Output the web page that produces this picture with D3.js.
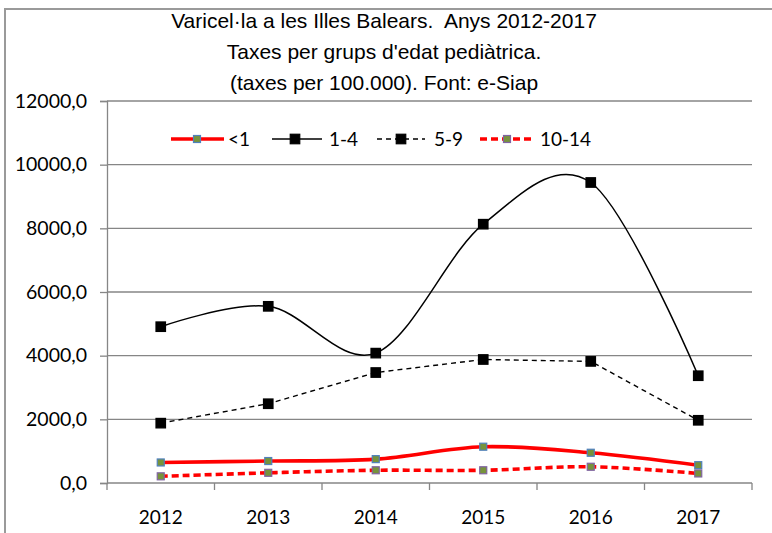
<!DOCTYPE html>
<html>
<head>
<meta charset="utf-8">
<script src="https://cdn.jsdelivr.net/npm/d3@7"></script>
<style>
  html, body { margin: 0; padding: 0; background: #fff; }
  svg { display: block; }
</style>
</head>
<body>
<script>
// ---- data ----
const years = ["2012", "2013", "2014", "2015", "2016", "2017"];
const seriesNames = ["<1", "1-4", "5-9", "10-14"];
const lt1 = [645, 690, 750, 1140, 950, 560];
const age1to4 = [4910, 5550, 4080, 8130, 9440, 3370];
const age5to9 = [1880, 2490, 3470, 3880, 3820, 1970];
const age10to14 = [210, 320, 400, 400, 510, 300];
const yTicks = [0, 2000, 4000, 6000, 8000, 10000, 12000];
const titleLines = [
  "Varicel\u00b7la a les Illes Balears.  Anys 2012-2017",
  "Taxes per grups d'edat pedi\u00e0trica.",
  "(taxes per 100.000). Font: e-Siap"
];

(function () {
const W = 772, H = 533;
const pLeft = 107, pRight = 752, pTop = 101, pBottom = 483;
const gray = "#868686";
const labelFont = "Lato, 'Open Sans', sans-serif";
const titleFont = "'Liberation Sans Narrow', 'Arial Narrow', 'Liberation Sans', sans-serif";

const svg = d3.select("body").append("svg").attr("width", W).attr("height", H);

// chart border (only top and left visible)
svg.append("rect").attr("x", 5).attr("y", 9).attr("width", 900).attr("height", 900)
  .attr("fill", "none").attr("stroke", "#9a9a9a").attr("stroke-width", 2);

const x = d3.scaleBand().domain(years).range([pLeft, pRight]).paddingInner(0).paddingOuter(0);
const y = d3.scaleLinear().domain([0, 12000]).range([pBottom, pTop]);

// gridlines
svg.append("g").selectAll("line").data(yTicks.filter(d => d > 0)).join("line")
  .attr("x1", pLeft).attr("x2", pRight)
  .attr("y1", d => y(d)).attr("y2", d => y(d))
  .attr("stroke", gray).attr("stroke-width", 1.3);

// y axis
const fmt = d => d3.format(".1f")(d).replace(".", ",");
const yAxis = svg.append("g").attr("transform", `translate(${pLeft},0)`)
  .call(d3.axisLeft(y).tickValues(yTicks).tickFormat(fmt).tickSize(7).tickPadding(13));
yAxis.select(".domain").attr("stroke", gray).attr("stroke-width", 1.3);
yAxis.selectAll(".tick line").attr("stroke", gray).attr("stroke-width", 1.3);
yAxis.selectAll(".tick text").attr("font-family", labelFont).attr("font-size", 19.5)
  .attr("fill", "#000");

// x axis
const xAxisG = svg.append("g").attr("transform", `translate(0,${pBottom})`);
xAxisG.append("line").attr("x1", pLeft).attr("x2", pRight).attr("y1", 0).attr("y2", 0)
  .attr("stroke", gray).attr("stroke-width", 1.3);
const bounds = years.map(d => x(d)).concat([pRight]);
xAxisG.selectAll("line.t").data(bounds).join("line").attr("class", "t")
  .attr("x1", d => d).attr("x2", d => d).attr("y1", 0).attr("y2", 7)
  .attr("stroke", gray).attr("stroke-width", 1.3);
xAxisG.selectAll("text").data(years).join("text")
  .attr("x", d => x(d) + x.bandwidth() / 2).attr("y", 41)
  .attr("text-anchor", "middle")
  .attr("font-family", labelFont).attr("font-size", 19).attr("fill", "#000")
  .text(d => d);

// title
svg.append("g").selectAll("text").data(titleLines).join("text")
  .attr("x", 384).attr("y", (d, i) => 28 + i * 31)
  .attr("text-anchor", "middle")
  .style("white-space", "pre")
  .attr("xml:space", "preserve")
  .attr("font-family", titleFont).attr("font-size", 21).attr("fill", "#000")
  .text(d => d);

// series definitions
const series = [
  { name: seriesNames[0], values: lt1, color: "#ff0000", width: 3.6, dash: null, curve: d3.curveCardinal.tension(0),
    mSize: 7, mFill: "#77933c", mStroke: "#4f81bd" },
  { name: seriesNames[1], values: age1to4, color: "#000", width: 1.5, dash: null, curve: d3.curveCardinal.tension(0),
    mSize: 9.5, mFill: "#000", mStroke: "#000" },
  { name: seriesNames[2], values: age5to9, color: "#000", width: 1.4, dash: "5,4", curve: d3.curveLinear,
    mSize: 9.5, mFill: "#000", mStroke: "#000" },
  { name: seriesNames[3], values: age10to14, color: "#ff0000", width: 3.6, dash: "7,4", curve: d3.curveCardinal.tension(0),
    mSize: 7, mFill: "#77933c", mStroke: "#8064a2" }
];

const cx = d => x(d) + x.bandwidth() / 2;

series.forEach(s => {
  const pts = years.map((yr, i) => [cx(yr), y(s.values[i])]);
  const line = d3.line().curve(s.curve);
  svg.append("path").attr("d", line(pts)).attr("fill", "none")
    .attr("stroke", s.color).attr("stroke-width", s.width)
    .attr("stroke-dasharray", s.dash);
  svg.append("g").selectAll("rect").data(pts).join("rect")
    .attr("x", d => d[0] - s.mSize / 2).attr("y", d => d[1] - s.mSize / 2)
    .attr("width", s.mSize).attr("height", s.mSize)
    .attr("fill", s.mFill).attr("stroke", s.mStroke).attr("stroke-width", 1.2);
});

// legend
const legendItems = [
  { x1: 171, x2: 224, m: 197, tx: 228 },
  { x1: 272, x2: 322, m: 295, tx: 329 },
  { x1: 377, x2: 425, m: 401, tx: 434 },
  { x1: 480, x2: 533, m: 507, tx: 540 }
];
const ly = 139;
const lg = svg.append("g");
series.forEach((s, i) => {
  const li = legendItems[i];
  lg.append("line").attr("x1", li.x1).attr("x2", li.x2).attr("y1", ly).attr("y2", ly)
    .attr("stroke", s.color).attr("stroke-width", s.width).attr("stroke-dasharray", s.dash);
  lg.append("rect").attr("x", li.m - s.mSize / 2).attr("y", ly - s.mSize / 2)
    .attr("width", s.mSize).attr("height", s.mSize)
    .attr("fill", s.mFill).attr("stroke", s.mStroke).attr("stroke-width", 1.2);
  lg.append("text").attr("x", li.tx).attr("y", ly + 7)
    .attr("font-family", labelFont).attr("font-size", 19).attr("fill", "#000")
    .text(s.name);
});
})();
</script>
</body>
</html>
